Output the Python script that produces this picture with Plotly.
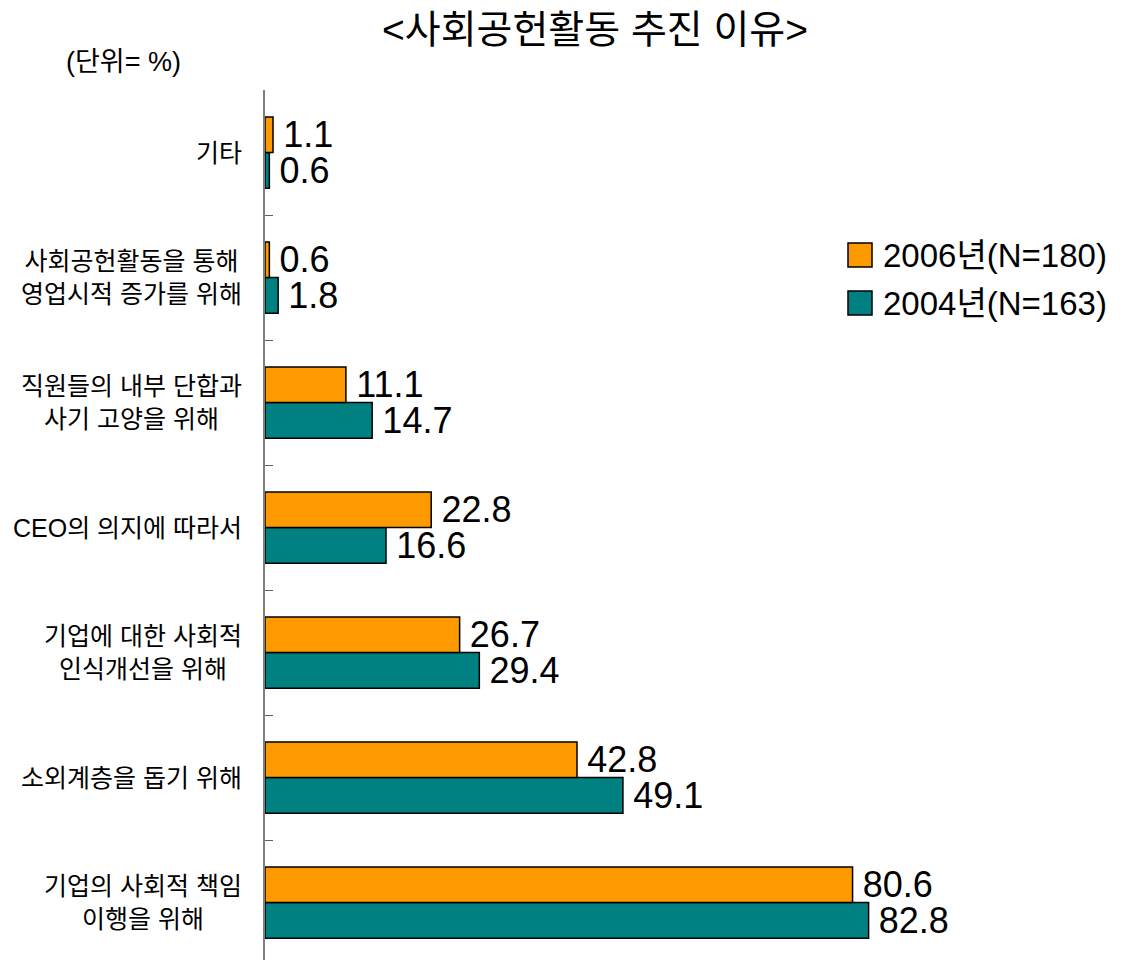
import plotly.graph_objects as go

# categories top-to-bottom as read in the chart
CATEGORIES = [
    "기타",
    "사회공헌활동을 통해<br>영업시적 증가를 위해",
    "직원들의 내부 단합과<br>사기 고양을 위해",
    "CEO의 의지에 따라서",
    "기업에 대한 사회적<br>인식개선을 위해",
    "소외계층을 돕기 위해",
    "기업의 사회적 책임<br>이행을 위해",
]
VALUES_2006 = [1.1, 0.6, 11.1, 22.8, 26.7, 42.8, 80.6]
VALUES_2004 = [0.6, 1.8, 14.7, 16.6, 29.4, 49.1, 82.8]
SERIES_NAMES = ["2006년(N=180)", "2004년(N=163)"]

ORANGE = "#FF9900"
TEAL = "#008080"
FONT = "Liberation Sans, Arial, Noto Sans CJK KR, sans-serif"

# the page body adds an 8px offset, so the figure is shrunk by that much
OFF = 8
W, H = 1129 - OFF, 960 - OFF
L, T, B = 265 - OFF, 90 - OFF, 0
PW = 838
R = W - L - PW
PH = H - T - B


def px_x(v):
    return (v - OFF - L) / PW


def px_y(v):
    return (H - B - (v - OFF)) / PH


fig = go.Figure()
# plotly stacks grouped horizontal bars bottom-up, so 2004 goes in first
for name, vals, color in [(SERIES_NAMES[1], VALUES_2004, TEAL), (SERIES_NAMES[0], VALUES_2006, ORANGE)]:
    fig.add_trace(
        go.Bar(
            name=name,
            x=vals,
            y=CATEGORIES,
            orientation="h",
            marker=dict(color=color, line=dict(color="#000000", width=1.5)),
            text=[f"\u2009{v}" for v in vals],
            textposition="outside",
            textfont=dict(family=FONT, size=36, color="#000000"),
            cliponaxis=False,
            constraintext="none",
            showlegend=False,
        )
    )

# category labels as centred two-line annotations
for cat in CATEGORIES:
    fig.add_annotation(
        x=0, xref="paper", y=cat, yref="y",
        text=cat, showarrow=False, xanchor="right", yanchor="middle",
        align="center", xshift=-21,
        font=dict(family=FONT, size=25, color="#000000"),
    )

# legend, drawn by hand so the swatches are large
for i, (name, color) in enumerate([(SERIES_NAMES[0], ORANGE), (SERIES_NAMES[1], TEAL)]):
    cy = 255 + i * 48
    fig.add_shape(
        type="rect", xref="paper", yref="paper",
        x0=px_x(848), x1=px_x(872), y0=px_y(cy + 12), y1=px_y(cy - 12),
        fillcolor=color, line=dict(color="#000000", width=1.5),
    )
    fig.add_annotation(
        x=px_x(881), xref="paper", y=px_y(cy), yref="paper",
        text=name, showarrow=False, xanchor="left", yanchor="middle",
        font=dict(family=FONT, size=33, color="#000000"),
    )

fig.add_annotation(
    x=px_x(64), xref="paper", y=px_y(62), yref="paper",
    text="(단위= %)", showarrow=False, xanchor="left", yanchor="middle",
    font=dict(family=FONT, size=27, color="#000000"),
)

fig.update_layout(
    width=W,
    height=H,
    margin=dict(l=L, r=R, t=T, b=B, autoexpand=False),
    barmode="group",
    bargap=0.43,
    bargroupgap=0,
    paper_bgcolor="#ffffff",
    plot_bgcolor="#ffffff",
    title=dict(
        text="<사회공헌활동 추진 이유>",
        x=(595 - OFF) / W, xanchor="center",
        y=1 - (29 - OFF) / H, yanchor="middle",
        font=dict(family=FONT, size=39, color="#000000"),
    ),
    xaxis=dict(range=[0, PW / 7.29], visible=False, fixedrange=True, automargin=False),
    yaxis=dict(
        categoryorder="array",
        categoryarray=CATEGORIES[::-1],
        range=[-0.46, 6.5],
        showticklabels=False,
        showline=True,
        linecolor="#808080",
        linewidth=1.5,
        ticks="inside",
        tickson="boundaries",
        ticklen=8,
        tickcolor="#606060",
        showgrid=False,
        zeroline=False,
        fixedrange=True,
        automargin=False,
    ),
)

fig.write_html("out.html")
